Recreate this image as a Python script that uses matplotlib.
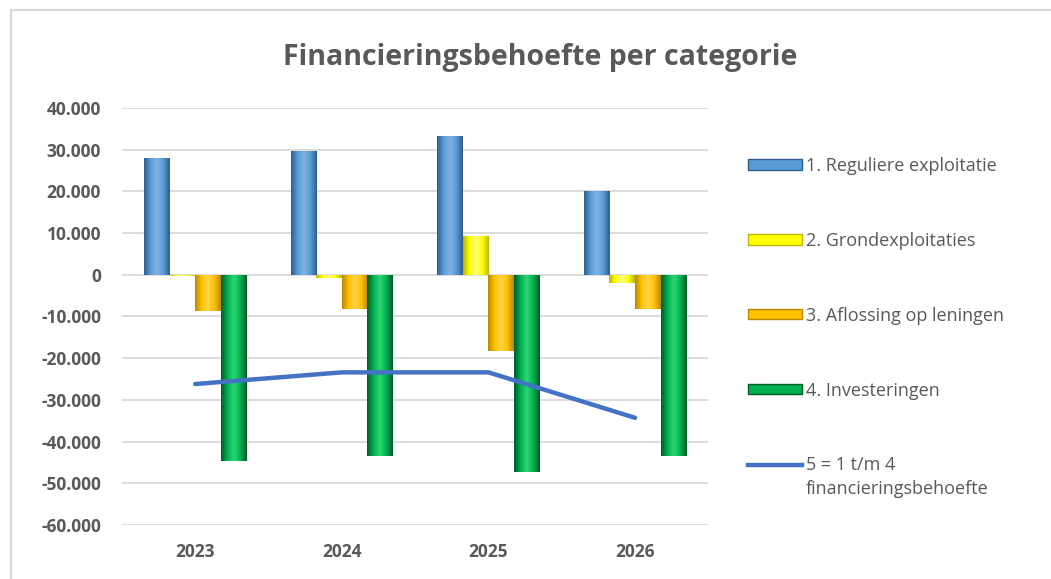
import numpy as np
import matplotlib
matplotlib.use("Agg")
import matplotlib.pyplot as plt
from matplotlib.patches import Rectangle
from matplotlib.lines import Line2D
from matplotlib.ticker import FuncFormatter
from matplotlib.colors import LinearSegmentedColormap

# data
years = ["2023", "2024", "2025", "2026"]
regulier = [28000, 29800, 33300, 20200]
grondexpl = [-300, -800, 9400, -2000]
aflossing = [-8800, -8300, -18200, -8200]
investeringen = [-44700, -43400, -47300, -43400]
totaal = [-26200, -23400, -23400, -34300]

labels = ["1. Reguliere exploitatie", "2. Grondexploitaties",
          "3. Aflossing op leningen", "4. Investeringen", "5 = 1 t/m 4"]
label_extra = "financieringsbehoefte"

# base / dark / light tones for the cylinder-ish look
tones = [("#5B9BD5", "#2D5E8E", "#7FB3E3"),
         ("#FFFF00", "#B8B800", "#FFFF80"),
         ("#FFC000", "#B88A00", "#FFD54D"),
         ("#00B050", "#005C28", "#2DD672")]
line_color = "#4472C4"
text_color = "#595959"

plt.rcParams["font.family"] = ["Open Sans", "DejaVu Sans"]

fig = plt.figure(figsize=(10.51, 5.79), dpi=100)
ax = fig.add_axes([0.116, 0.0933, 0.558, 0.7202])

# chart border (only top and left visible in the original)
fig.add_artist(Line2D([11 / 1051, 1.0], [1 - 10 / 579] * 2, transform=fig.transFigure,
                      color="#D9D9D9", linewidth=1.5))
fig.add_artist(Line2D([11 / 1051] * 2, [0.0, 1 - 10 / 579], transform=fig.transFigure,
                      color="#D9D9D9", linewidth=1.5))

x = np.arange(len(years))
width = 0.175
series = [regulier, grondexpl, aflossing, investeringen]

for i, vals in enumerate(series):
    base, dark, light = tones[i]
    cmap = LinearSegmentedColormap.from_list("c%d" % i, [dark, base, light, base, dark])
    offs = x + (i - 1.5) * width
    bars = ax.bar(offs, vals, width, color=base, edgecolor="none", zorder=3)
    grad = np.linspace(0, 1, 64).reshape(1, -1)
    for b in bars:
        x0, y0 = b.get_x(), b.get_y()
        w, h = b.get_width(), b.get_height()
        im = ax.imshow(grad, cmap=cmap, aspect="auto", zorder=3.5,
                       extent=[x0, x0 + w, y0, y0 + h], interpolation="bilinear")
        im.set_clip_path(b)

ax.plot(x, totaal, color=line_color, linewidth=3.2, zorder=5, solid_capstyle="round")

ax.set_xlim(-0.5, 3.5)
ax.set_ylim(-60000, 40000)
ax.set_yticks(np.arange(-60000, 40001, 10000))
ax.yaxis.set_major_formatter(FuncFormatter(lambda v, p: f"{int(v):,}".replace(",", ".")))
ax.set_xticks(x)
ax.set_xticklabels(years)
ax.grid(axis="y", color="#D9D9D9", linewidth=1.3, zorder=0)
for s in ax.spines.values():
    s.set_visible(False)
ax.tick_params(length=0, labelsize=12.5, labelcolor=text_color)
ax.tick_params(axis="y", pad=15)
ax.tick_params(axis="x", pad=13)
for t in ax.get_xticklabels() + ax.get_yticklabels():
    t.set_fontweight("bold")

fig.text(0.514, 0.90, "Financieringsbehoefte per categorie", ha="center", va="center",
         fontsize=20.5, fontweight="bold", color=text_color)

handles = [Rectangle((0, 0), 1, 1, facecolor=tones[i][0], edgecolor=tones[i][1], linewidth=1)
           for i in range(4)]
handles.append(Line2D([0], [0], color=line_color, linewidth=3.2))
leg = fig.legend(handles, labels, loc="upper left", bbox_to_anchor=(0.6965, 0.757),
                 frameon=False, fontsize=13, labelcolor=text_color, handlelength=3.0,
                 handleheight=0.5, handletextpad=0.2, labelspacing=3.15)

# second line of the last legend label
fig.canvas.draw()
bb = leg.get_texts()[4].get_window_extent(fig.canvas.get_renderer())
fig.text(bb.x0 / fig.bbox.width, (bb.y0 - 6) / fig.bbox.height, label_extra,
         ha="left", va="top", fontsize=13, color=text_color)

fig.savefig("out.png", dpi=100)
